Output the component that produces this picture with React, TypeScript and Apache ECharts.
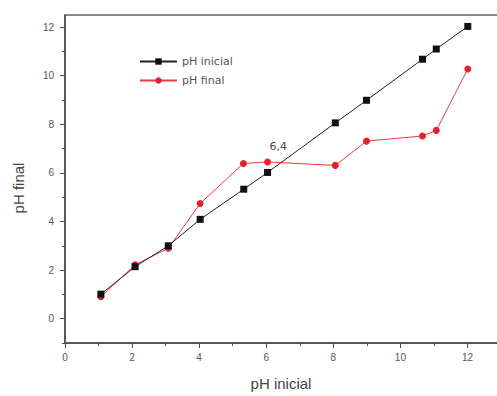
import React, { useEffect, useRef } from "react";
import * as echarts from "echarts";

const phInicialX = [1.07, 2.09, 3.08, 4.03, 5.33, 6.04, 8.06, 8.99, 10.66, 11.07, 12.01];
const phInicialY = [1.01, 2.14, 3.0, 4.09, 5.33, 6.02, 8.06, 8.99, 10.68, 11.1, 12.03];
const phFinalX = [1.07, 2.09, 3.08, 4.03, 5.32, 6.04, 8.06, 8.99, 10.66, 11.07, 12.01];
const phFinalY = [0.9, 2.22, 2.9, 4.74, 6.39, 6.45, 6.31, 7.31, 7.52, 7.75, 10.28];
const xMajor = [0, 2, 4, 6, 8, 10, 12];
const xMinor = [1, 3, 5, 7, 9, 11];
const yMajor = [0, 2, 4, 6, 8, 10, 12];
const yMinor = [-1, 1, 3, 5, 7, 9, 11];
const annotation = { text: "6,4", x: 6.36, y: 7.1 };

const FONT = "Liberation Sans";

export default function App() {
  const ref = useRef<HTMLDivElement>(null);
  useEffect(() => {
    if (!ref.current) return;
    const chart = echarts.init(ref.current, undefined, { renderer: "svg" });
    const axisLineColor = "#4a4a4a";
    const labelStyle = { color: "#555", fontSize: 10, fontFamily: FONT };
    chart.setOption({
      animation: false,
      backgroundColor: "#fff",
      grid: {
        left: 65,
        top: 15,
        right: 3,
        bottom: 53,
        show: true,
        borderColor: "#666",
        borderWidth: 1.5,
      },
      legend: {
        orient: "vertical",
        left: 134,
        top: 51,
        itemWidth: 37,
        itemHeight: 8,
        itemGap: 8,
        textStyle: { color: "#555", fontSize: 11, fontFamily: "DejaVu Sans" },
        data: ["pH inicial", "pH final"],
      },
      xAxis: [
        {
          type: "value",
          min: 0,
          max: 13,
          splitLine: { show: false },
          axisLine: { show: true, onZero: false, lineStyle: { color: axisLineColor, width: 1.5 } },
          axisTick: { show: true, length: 5, customValues: xMajor, lineStyle: { color: axisLineColor } },
          axisLabel: { ...labelStyle, margin: 9, customValues: xMajor },
        },
        {
          type: "value",
          min: 0,
          max: 13,
          position: "bottom",
          splitLine: { show: false },
          axisLine: { show: false, onZero: false },
          axisTick: { show: true, length: 3, customValues: xMinor, lineStyle: { color: axisLineColor } },
          axisLabel: { show: false },
        },
      ],
      yAxis: [
        {
          type: "value",
          min: -1,
          max: 12.5,
          splitLine: { show: false },
          axisLine: { show: true, onZero: false, lineStyle: { color: axisLineColor, width: 1.5 } },
          axisTick: { show: true, length: 5, customValues: yMajor, lineStyle: { color: axisLineColor } },
          axisLabel: { ...labelStyle, margin: 11, customValues: yMajor },
        },
        {
          type: "value",
          min: -1,
          max: 12.5,
          position: "left",
          splitLine: { show: false },
          axisLine: { show: false, onZero: false },
          axisTick: { show: true, length: 3, customValues: yMinor, lineStyle: { color: axisLineColor } },
          axisLabel: { show: false },
        },
      ],
      graphic: [
        {
          type: "text",
          x: 18,
          y: 188,
          rotation: Math.PI / 2,
          style: {
            text: "pH final",
            fill: "#444",
            fontSize: 15,
            fontFamily: FONT,
            align: "center",
            verticalAlign: "middle",
          },
        },
        {
          type: "text",
          x: 281,
          y: 383,
          style: {
            text: "pH inicial",
            fill: "#444",
            fontSize: 15,
            fontFamily: FONT,
            align: "center",
            verticalAlign: "middle",
          },
        },
      ],
      series: [
        {
          name: "pH inicial",
          type: "line",
          xAxisIndex: 0,
          yAxisIndex: 0,
          data: phInicialX.map((x, i) => [x, phInicialY[i]]),
          symbol: "rect",
          symbolSize: 7,
          color: "#111",
          lineStyle: { color: "#222", width: 1 },
          itemStyle: { color: "#111" },
          z: 3,
        },
        {
          name: "pH final",
          type: "line",
          xAxisIndex: 0,
          yAxisIndex: 0,
          data: phFinalX.map((x, i) => [x, phFinalY[i]]),
          symbol: "circle",
          symbolSize: 7,
          color: "#e5222b",
          lineStyle: { color: "#ee3a40", width: 1 },
          itemStyle: { color: "#e5222b" },
          z: 2,
          markPoint: {
            symbol: "circle",
            symbolSize: 0,
            data: [{ coord: [annotation.x, annotation.y] }],
            label: {
              show: true,
              formatter: annotation.text,
              color: "#444",
              fontSize: 11,
              fontFamily: "DejaVu Sans",
              position: "inside",
            },
          },
        },
      ],
    });
    return () => chart.dispose();
  }, []);
  return (
    <div
      style={{ position: "absolute", left: 0, top: 0, width: 497, height: 396, overflow: "hidden" }}
    >
      <div ref={ref} style={{ width: 504, height: 396 }} />
    </div>
  );
}
